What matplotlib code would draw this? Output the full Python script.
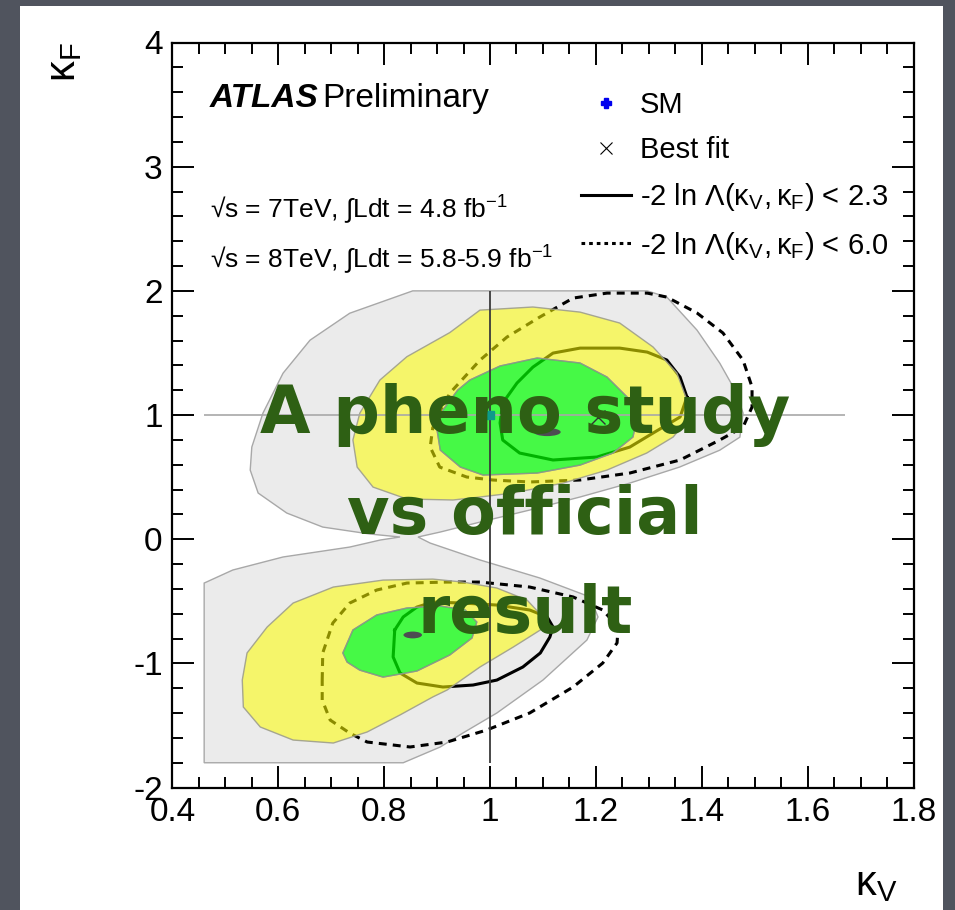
import numpy as np
import matplotlib
matplotlib.use('Agg')
import matplotlib.pyplot as plt
from matplotlib import font_manager
from matplotlib.patches import Polygon, PathPatch, Ellipse, Rectangle
from matplotlib.path import Path
from matplotlib.lines import Line2D
from matplotlib.ticker import MultipleLocator, FuncFormatter

# contour outlines, (kappa_V, kappa_F)
gray_kv = [0.854, 1.297, 1.334, 1.391, 1.434, 1.466, 1.478, 1.472, 1.434, 1.358, 1.264, 1.170, 1.075,
           0.981, 0.906, 0.864, 0.887, 0.981, 1.094, 1.189, 1.204, 1.183, 1.100, 1.013, 0.949, 0.906,
           0.836, 0.460, 0.460, 0.514, 0.609, 0.735, 0.793, 0.830, 0.773, 0.684, 0.616, 0.562, 0.547,
           0.550, 0.571, 0.609, 0.660, 0.735]
gray_kf = [2.000, 2.000, 1.950, 1.684, 1.418, 1.176, 1.015, 0.822, 0.717, 0.581, 0.452, 0.340, 0.235,
           0.138, 0.058, 0.018, -0.031, -0.167, -0.312, -0.465, -0.626, -0.812, -1.134, -1.399, -1.560,
           -1.673, -1.800, -1.800, -0.353, -0.248, -0.143, -0.063, -0.006, 0.018, 0.042, 0.098, 0.211,
           0.372, 0.557, 0.742, 1.015, 1.337, 1.603, 1.820]

yellow_up_kv = [0.981, 1.081, 1.170, 1.245, 1.308, 1.353, 1.372, 1.372, 1.346, 1.296, 1.221, 1.138,
                1.043, 0.981, 0.930, 0.843, 0.779, 0.749, 0.741, 0.754, 0.792, 0.843, 0.924]
yellow_up_kf = [1.845, 1.870, 1.829, 1.741, 1.548, 1.338, 1.121, 0.960, 0.823, 0.694, 0.557, 0.452,
                0.372, 0.340, 0.316, 0.324, 0.420, 0.581, 0.799, 1.015, 1.282, 1.470, 1.664]
green_up_kv = [0.911, 0.939, 0.962, 1.019, 1.089, 1.170, 1.221, 1.259, 1.277, 1.270, 1.232, 1.170,
               1.089, 0.987, 0.944, 0.906, 0.900]
green_up_kf = [1.040, 1.201, 1.282, 1.395, 1.459, 1.419, 1.306, 1.145, 0.960, 0.823, 0.694, 0.597,
               0.533, 0.517, 0.581, 0.718, 0.879]

yellow_lo_kv = [0.532, 0.541, 0.579, 0.628, 0.704, 0.798, 0.892, 0.949, 1.013, 1.070, 1.100, 1.095,
                1.044, 0.981, 0.919, 0.892, 0.830, 0.768, 0.704, 0.628, 0.566, 0.534]
yellow_lo_kf = [-1.134, -0.916, -0.707, -0.514, -0.385, -0.329, -0.321, -0.345, -0.393, -0.490, -0.626,
                -0.731, -0.868, -1.029, -1.214, -1.270, -1.415, -1.552, -1.641, -1.617, -1.512, -1.351]
green_lo_kv = [0.722, 0.741, 0.786, 0.843, 0.906, 0.953, 0.975, 0.966, 0.924, 0.862, 0.798, 0.754, 0.730]
green_lo_kf = [-0.916, -0.731, -0.610, -0.554, -0.538, -0.570, -0.667, -0.795, -0.932, -1.061, -1.110,
               -1.054, -0.989]

solid_up_kv = [1.372, 1.359, 1.334, 1.297, 1.245, 1.170, 1.119, 1.081, 1.051, 1.024, 1.019, 1.024,
               1.056, 1.119, 1.202, 1.264, 1.308, 1.359]
solid_up_kf = [1.145, 1.306, 1.443, 1.507, 1.539, 1.539, 1.499, 1.386, 1.258, 1.097, 0.936, 0.799,
               0.694, 0.638, 0.662, 0.742, 0.855, 0.984]
dash_up_kv = [0.892, 0.924, 0.981, 1.032, 1.094, 1.157, 1.221, 1.297, 1.334, 1.391, 1.440, 1.478,
              1.495, 1.495, 1.478, 1.434, 1.359, 1.264, 1.170, 1.075, 1.005, 0.956, 0.905, 0.887]
dash_up_kf = [0.903, 1.176, 1.442, 1.628, 1.789, 1.942, 1.982, 1.982, 1.950, 1.822, 1.661, 1.442,
              1.226, 1.065, 0.903, 0.799, 0.638, 0.533, 0.477, 0.461, 0.477, 0.501, 0.581, 0.742]

solid_lo_kv = [0.820, 0.836, 0.862, 0.892, 0.949, 1.013, 1.075, 1.108, 1.119, 1.113, 1.095, 1.062,
               1.013, 0.968, 0.911, 0.862, 0.830, 0.817]
solid_lo_kf = [-0.731, -0.626, -0.546, -0.506, -0.514, -0.530, -0.570, -0.626, -0.707, -0.788, -0.916,
               -1.029, -1.134, -1.174, -1.190, -1.158, -1.077, -0.948]
dash_lo_kv = [0.683, 0.684, 0.703, 0.735, 0.786, 0.843, 0.919, 0.981, 1.075, 1.157, 1.213, 1.242,
              1.240, 1.213, 1.157, 1.075, 0.994, 0.919, 0.849, 0.768, 0.735, 0.698, 0.683]
dash_lo_kf = [-1.134, -0.916, -0.675, -0.514, -0.409, -0.353, -0.345, -0.345, -0.385, -0.465, -0.570,
              -0.707, -0.835, -0.997, -1.190, -1.399, -1.536, -1.633, -1.673, -1.633, -1.561, -1.456, -1.295]

# points
sm_kv, sm_kf = 1.0, 1.0
fit_kv = [1.108, 0.854]
fit_kf = [0.863, -0.771]
fit_w = [0.051, 0.035]
fit_h = [0.065, 0.055]
official_fit = (1.204, 0.984)
vline_range = (-1.8, 2.0)
hline_range = (0.46, 1.67)

legend_labels = ['SM', 'Best fit',
                 r'-2 ln $\mathrm{\Lambda(\kappa_{V},\kappa_{F})}$ < 2.3',
                 r'-2 ln $\mathrm{\Lambda(\kappa_{V},\kappa_{F})}$ < 6.0']
lumi_lines = [r'√s = 7TeV, ∫Ldt = 4.8 fb$^{\mathrm{-1}}$',
              r'√s = 8TeV, ∫Ldt = 5.8-5.9 fb$^{\mathrm{-1}}$']
watermark_lines = ['A pheno study', 'vs official', 'result']
watermark_kf = [0.855, 0.042, -0.756]

names = {f.name for f in font_manager.fontManager.ttflist}
narrow = 'Liberation Sans Narrow' if 'Liberation Sans Narrow' in names else 'Liberation Sans'
plt.rcParams['font.family'] = [narrow, 'DejaVu Sans']
plt.rcParams['mathtext.fontset'] = 'custom'
plt.rcParams['mathtext.rm'] = narrow
plt.rcParams['mathtext.it'] = narrow + ':italic'
plt.rcParams['mathtext.bf'] = narrow + ':bold'
plt.rcParams['mathtext.sf'] = narrow


def ring(ox, oy, ix, iy):
    outer = np.column_stack([ox, oy])
    inner = np.column_stack([ix, iy])[::-1]
    verts = np.concatenate([outer, outer[:1], inner, inner[:1]])
    codes = ([Path.MOVETO] + [Path.LINETO] * (len(outer) - 1) + [Path.CLOSEPOLY]
             + [Path.MOVETO] + [Path.LINETO] * (len(inner) - 1) + [Path.CLOSEPOLY])
    return Path(verts, codes)


def closed(x, y):
    return np.append(x, x[0]), np.append(y, y[0])


fig = plt.figure(figsize=(9.55, 9.1), dpi=100)
fig.patch.set_facecolor('#50545e')
fig.add_artist(Rectangle((20 / 955, 0), 923 / 955, 904 / 910, transform=fig.transFigure,
                         facecolor='white', edgecolor='none', zorder=-1))
ax = fig.add_axes([172.4 / 955, (910 - 787.6) / 910, 741.1 / 955, 745.1 / 910])
ax.set_facecolor('white')

# pheno study regions
ax.add_patch(Polygon(np.column_stack([gray_kv, gray_kf]), closed=True, facecolor='#ebebeb',
                     edgecolor='#a8a8a8', lw=1, zorder=1))

# official contours (underneath the coloured fills)
for x, y in [(solid_up_kv, solid_up_kf), (solid_lo_kv, solid_lo_kf)]:
    cx, cy = closed(x, y)
    ax.plot(cx, cy, color='black', lw=2.2, solid_joinstyle='round', zorder=2)
for x, y in [(dash_up_kv, dash_up_kf), (dash_lo_kv, dash_lo_kf)]:
    cx, cy = closed(x, y)
    ax.plot(cx, cy, color='black', lw=2.2, ls=(0, (2.6, 2.0)), zorder=2)

for ox, oy, ix, iy in [(yellow_up_kv, yellow_up_kf, green_up_kv, green_up_kf),
                       (yellow_lo_kv, yellow_lo_kf, green_lo_kv, green_lo_kf)]:
    ax.add_patch(PathPatch(ring(ox, oy, ix, iy), facecolor=(1, 1, 0, 0.55),
                           edgecolor=(0.62, 0.62, 0.55, 0.9), lw=1, zorder=3))
    ax.add_patch(Polygon(np.column_stack([ix, iy]), closed=True, facecolor=(0, 1, 0, 0.7),
                         edgecolor=(0.55, 0.6, 0.55, 0.9), lw=1, zorder=3))

ax.vlines(sm_kv, vline_range[0], vline_range[1], color='#3a3a3a', lw=1.3, zorder=4)
ax.hlines(sm_kf, hline_range[0], hline_range[1], color='#a8a8a8', lw=1.2, zorder=4)

for x, y, w, h in zip(fit_kv, fit_kf, fit_w, fit_h):
    ax.add_patch(Ellipse((x, y), w, h, facecolor='#4d4d52', edgecolor='none', zorder=5))
ax.plot(sm_kv, sm_kf, ls='none', marker='s', color='#0d9a8a', ms=6, zorder=5)
ax.plot(official_fit[0], official_fit[1], ls='none', marker='x', color='#333333', ms=10, mew=1, zorder=5)

ax.set_xlim(0.4, 1.8)
ax.set_ylim(-2, 4)
ax.xaxis.set_major_locator(MultipleLocator(0.2))
ax.xaxis.set_minor_locator(MultipleLocator(0.05))
ax.yaxis.set_major_locator(MultipleLocator(1))
ax.yaxis.set_minor_locator(MultipleLocator(0.2))
fmt = FuncFormatter(lambda v, p: '%g' % round(v, 2))
ax.xaxis.set_major_formatter(fmt)
ax.yaxis.set_major_formatter(fmt)
ax.tick_params(which='major', direction='in', top=True, right=True, length=16, width=1.4,
               labelsize=24, pad=7)
ax.tick_params(which='minor', direction='in', top=True, right=True, length=8, width=1.4)
for s in ax.spines.values():
    s.set_linewidth(1.6)
    s.set_zorder(6)

ax.text(0.471, 3.48, 'ATLAS', fontsize=24, fontweight='bold', fontstyle='italic', zorder=7)
ax.text(0.683, 3.48, 'Preliminary', fontsize=24, zorder=7)
ax.text(0.471, 2.586, lumi_lines[0], fontsize=19, zorder=7)
ax.text(0.471, 2.184, lumi_lines[1], fontsize=19, zorder=7)

handles = [Line2D([], [], ls='none', marker='P', color='#0000ee', ms=7),
           Line2D([], [], ls='none', marker='x', color='black', ms=9, mew=0.8),
           Line2D([], [], color='black', lw=2.2),
           Line2D([], [], color='black', lw=2.2, ls=(0, (1.2, 1.3)))]
ax.legend(handles, legend_labels, loc='upper left', bbox_to_anchor=(0.552, 0.935), frameon=False,
          fontsize=21, handlelength=1.7, handletextpad=0.3, labelspacing=0.58, borderpad=0,
          borderaxespad=0)

for s, y in zip(watermark_lines, watermark_kf):
    ax.text(1.066, y, s, ha='center', va='baseline', fontsize=47, fontweight='bold',
            color='#2e6014', family='DejaVu Sans', zorder=10)

fig.text(64 / 955, 1 - 62 / 910, r'$\mathrm{\kappa_{F}}$', rotation=90, fontsize=30,
         ha='center', va='center')
fig.text(876 / 955, 1 - 884 / 910, r'$\mathrm{\kappa_{V}}$', fontsize=30, ha='center', va='center')

fig.savefig('out.png', dpi=100, facecolor=fig.get_facecolor())
